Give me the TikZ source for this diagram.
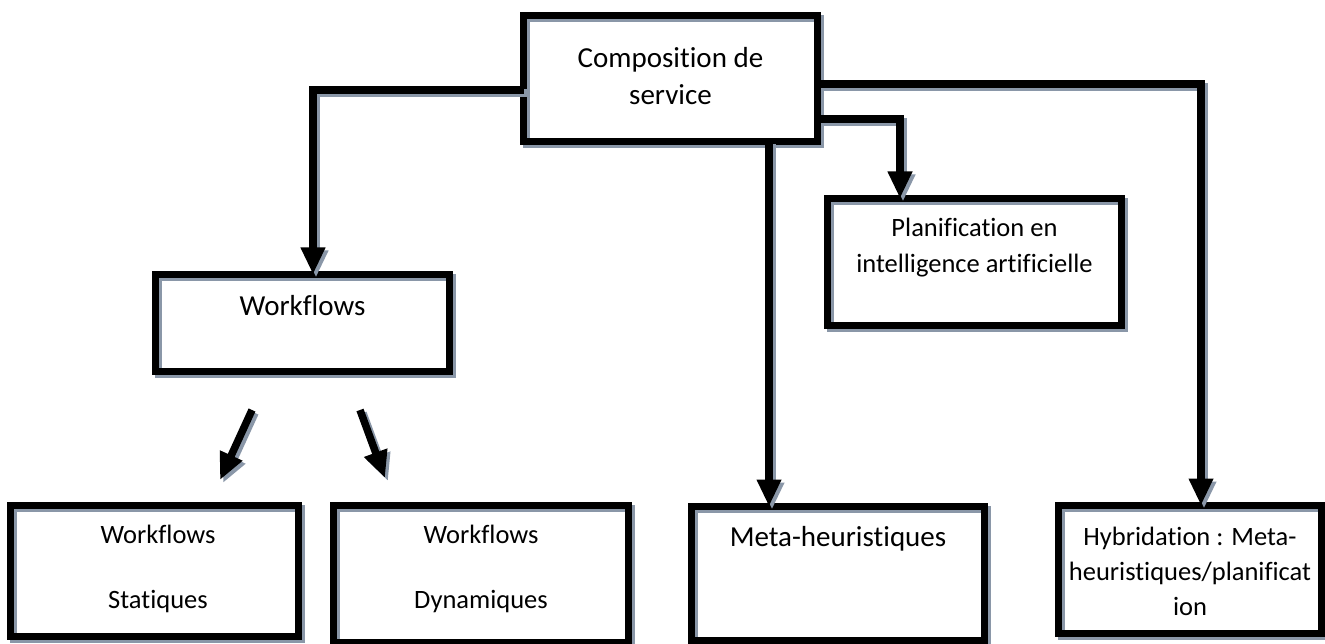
\documentclass[tikz,border=0pt]{standalone}
\usepackage{fontspec}
\setmainfont{Carlito}[Ligatures=NoCommon]
\usetikzlibrary{arrows.meta}
\definecolor{shd}{RGB}{138,151,168}
\tikzset{
  every node/.style={inner sep=0pt, outer sep=0pt},
  shdcopy/.style={draw=shd, transform canvas={shift={(3pt,-3pt)}}},
  box/.style={rectangle, draw=black, line width=7pt,
    preaction={draw=shd, line width=7pt, transform canvas={shift={(3pt,-3pt)}}}},
  conn/.style={line width=7.5pt, line join=miter,
    -{Triangle[length=27pt,width=23pt]}},
  bigtxt/.style={font=\fontsize{29}{35}\selectfont, anchor=base},
  smalltxt/.style={font=\fontsize{26.5}{32}\selectfont, anchor=base},
}
% every connector is drawn twice: grey offset copy first, black on top
\newcommand\shadowdraw[1]{\draw[conn,shdcopy] #1; \draw[conn] #1;}

\begin{document}
\begin{tikzpicture}[x=1pt,y=-1pt]
  \useasboundingbox[fill=white] (0,0) rectangle (1325,644);

  % boxes
  \node[box, minimum width=294pt, minimum height=126pt] (comp) at (670.5,78.5) {};
  \node[box, minimum width=294pt, minimum height=97pt]  (wf)   at (302.5,323) {};
  \node[box, minimum width=294pt, minimum height=127pt] (pl)   at (974.5,262) {};
  \node[box, minimum width=288pt, minimum height=131pt] (st)   at (154.5,571) {};
  \node[box, minimum width=295pt, minimum height=137pt] (dy)   at (481,574) {};
  \node[box, minimum width=293pt, minimum height=134pt] (me)   at (838,573.5) {};
  \node[box, minimum width=263pt, minimum height=128pt] (hy)   at (1190,569.5) {};

  % texts, one node per printed line (positions are baselines)
  \node[bigtxt] (comp1) at (670.5,68) {Composition de};
  \node[bigtxt] (comp2) at (670.5,105) {service};
  \node[bigtxt] (wf1) at (302.5,316) {Workflows};
  \node[smalltxt] (pl1) at (974.5,237) {Planification en};
  \node[smalltxt] (pl2) at (974.5,273) {intelligence artificielle};
  \node[smalltxt] (st1) at (158,543) {Workflows};
  \node[smalltxt] (st2) at (158,608) {Statiques};
  \node[smalltxt] (dy1) at (481,543) {Workflows};
  \node[smalltxt] (dy2) at (481,608) {Dynamiques};
  \node[bigtxt] (me1) at (838,546) {Meta-heuristiques};
  \node[smalltxt] (hy1) at (1190,545) {Hybridation : Meta-};
  \node[smalltxt] (hy2) at (1190,580) {heuristiques/planificat};
  \node[smalltxt] (hy3) at (1190,615) {ion};

  % free ends of the two short arrows under Workflows
  \coordinate (d1s) at (252,410);
  \coordinate (d1e) at (220,480);
  \coordinate (d2s) at (360,410);
  \coordinate (d2e) at (385,478);

  % connectors
  \shadowdraw{(comp.west |- 0,90) -| (wf.north -| 313,0)}
  \shadowdraw{(comp.east |- 0,84) -| (hy.north -| 1201,0)}
  \shadowdraw{(comp.east |- 0,119) -| (pl.north -| 900,0)}
  \shadowdraw{(comp.south -| 769,0) -- (me.north -| 769,0)}
  \shadowdraw{(d1s) -- (d1e)}
  \shadowdraw{(d2s) -- (d2e)}
\end{tikzpicture}
\end{document}
